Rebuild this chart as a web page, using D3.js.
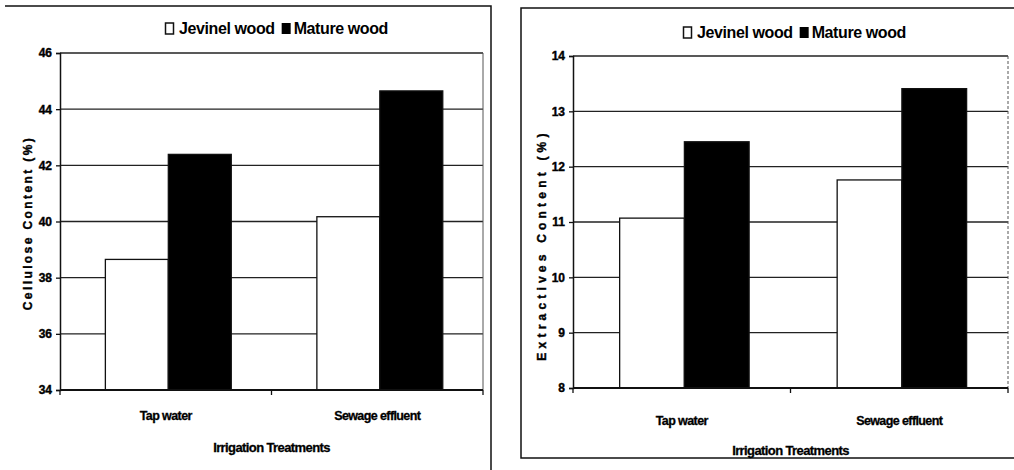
<!DOCTYPE html>
<html>
<head>
<meta charset="utf-8">
<script src="https://cdn.jsdelivr.net/npm/d3@7"></script>
<style>
  body { margin: 0; background: #fff; }
  svg text { font-family: "Liberation Sans Narrow", "Liberation Sans", Arial, sans-serif; font-weight: bold; fill: #000; }
</style>
</head>
<body>
<script>
// data
var categories = ["Tap water", "Sewage effluent"];
var seriesNames = ["Jevinel wood", "Mature wood"];
var celluloseJevinel = [38.65, 40.17];
var celluloseMature = [42.39, 44.65];
var extractJevinel = [11.07, 11.76];
var extractMature = [12.45, 13.41];
var celluloseTicks = [34, 36, 38, 40, 42, 44, 46];
var extractTicks = [8, 9, 10, 11, 12, 13, 14];

var svg = d3.select("body").append("svg")
    .attr("width", 1014)
    .attr("height", 470);

function drawChart(o) {
  var g = svg.append("g");
  var yMin = o.ticks[0], yMax = o.ticks[o.ticks.length - 1];

  var y = d3.scaleLinear().domain([yMin, yMax]).range([o.bottom, o.top]);
  var x0 = d3.scaleBand().domain(categories).range([o.left, o.right]);
  var x1 = d3.scaleBand().domain(seriesNames).range([0, x0.bandwidth()])
      .paddingOuter(0.68).align(0.53);

  // outer frame
  g.append("path")
    .attr("d", o.frame)
    .attr("fill", "none").attr("stroke", "#111").attr("stroke-width", 1.5);

  // gridlines
  g.selectAll(".grid").data(o.ticks.slice(1))
    .enter().append("line")
    .attr("x1", o.left).attr("x2", o.right)
    .attr("y1", function(d){ return y(d); }).attr("y2", function(d){ return y(d); })
    .attr("stroke", "#222").attr("stroke-width", 1.4);

  // right plot border
  g.append("line")
    .attr("x1", o.right).attr("x2", o.right).attr("y1", o.top).attr("y2", o.bottom)
    .attr("stroke", "#555").attr("stroke-width", 1).attr("stroke-dasharray", o.rightDash);

  // bars
  var rows = categories.map(function(c, i){ return [
    {cat: c, s: seriesNames[0], v: o.jev[i]},
    {cat: c, s: seriesNames[1], v: o.mat[i]}
  ]; });
  var grp = g.selectAll(".grp").data(rows).enter().append("g")
    .attr("transform", function(d){ return "translate(" + x0(d[0].cat) + ",0)"; });
  grp.selectAll("rect").data(function(d){ return d; })
    .enter().append("rect")
    .attr("x", function(d){ return x1(d.s); })
    .attr("width", x1.bandwidth())
    .attr("y", function(d){ return y(d.v); })
    .attr("height", function(d){ return y(yMin) - y(d.v); })
    .attr("fill", function(d){ return d.s == seriesNames[0] ? "#fff" : "#000"; })
    .attr("stroke", "#111").attr("stroke-width", 1.3);

  // y axis
  var yAxis = g.append("g").attr("transform", "translate(" + o.left + ",0)")
    .call(d3.axisLeft(y).tickValues(o.ticks).tickSize(4).tickPadding(4).tickFormat(d3.format("d")));
  yAxis.select(".domain").attr("stroke", "#111").attr("stroke-width", 1.5);
  yAxis.selectAll(".tick line").attr("stroke", "#111").attr("stroke-width", 1.3);
  yAxis.selectAll("text").attr("font-size", 12)
    .style("font-family", "'Liberation Sans Narrow', 'Liberation Sans', Arial, sans-serif")
    .style("font-weight", "bold")
    .attr("stroke", "#000").attr("stroke-width", 0.4);

  // x axis
  var xAxis = g.append("g").attr("transform", "translate(0," + o.bottom + ")");
  xAxis.append("line").attr("x1", o.left).attr("x2", o.right)
    .attr("stroke", "#111").attr("stroke-width", 1.8);
  xAxis.selectAll(".xt").data([o.left, x0(categories[1]), o.right])
    .enter().append("line")
    .attr("x1", function(d){ return d; }).attr("x2", function(d){ return d; })
    .attr("y1", 0).attr("y2", 5).attr("stroke", "#111").attr("stroke-width", 1.3);
  xAxis.selectAll("text").data(categories)
    .enter().append("text")
    .attr("x", function(d){ return x0(d) + x0.bandwidth() / 2; })
    .attr("y", o.catY - o.bottom)
    .attr("text-anchor", "middle")
    .attr("font-size", 12.5)
    .attr("letter-spacing", -0.6)
    .attr("stroke", "#000").attr("stroke-width", 0.3)
    .text(function(d){ return d; });

  g.append("text")
    .attr("x", (o.left + o.right) / 2).attr("y", o.xTitleY)
    .attr("text-anchor", "middle").attr("font-size", 13).attr("letter-spacing", -0.6)
    .attr("stroke", "#000").attr("stroke-width", 0.3)
    .text("Irrigation Treatments");

  g.append("text")
    .attr("transform", "translate(" + o.yTitleX + "," + o.yTitleY + ") rotate(-90)")
    .attr("text-anchor", "middle").attr("font-size", 12).attr("letter-spacing", o.yTitleSpacing)
    .attr("stroke", "#000").attr("stroke-width", 0.4)
    .text(o.yTitle);

  // legend
  var lg = g.append("g").attr("transform", "translate(" + o.legX + "," + o.legY + ")");
  lg.append("rect").attr("x", 0.5).attr("y", -11).attr("width", 8).attr("height", 11)
    .attr("fill", "#fff").attr("stroke", "#111").attr("stroke-width", 1.5);
  var t1 = lg.append("text").attr("x", 14).attr("y", 0).attr("font-size", 16).attr("letter-spacing", -0.4)
    .text(seriesNames[0]);
  var w1 = t1.node().getComputedTextLength();
  lg.append("rect").attr("x", 14 + w1 + 7).attr("y", -11).attr("width", 9).attr("height", 11)
    .attr("fill", "#000");
  lg.append("text").attr("x", 14 + w1 + 19).attr("y", 0).attr("font-size", 16).attr("letter-spacing", -0.4)
    .text(seriesNames[1]);
}

drawChart({
  left: 60, right: 483, top: 53, bottom: 390,
  ticks: celluloseTicks, jev: celluloseJevinel, mat: celluloseMature,
  yTitle: "Cellulose Content (%)", yTitleX: 32, yTitleY: 223, yTitleSpacing: 2.4,
  catY: 420, xTitleY: 452,
  legX: 165, legY: 34,
  rightDash: null,
  frame: "M5,6 L491,6 L491,470"
});

drawChart({
  left: 573, right: 1008, top: 56, bottom: 388,
  ticks: extractTicks, jev: extractJevinel, mat: extractMature,
  yTitle: "Extractives Content (%)", yTitleX: 546, yTitleY: 245, yTitleSpacing: 4.2,
  catY: 425, xTitleY: 455,
  legX: 683, legY: 38,
  rightDash: "3,2",
  frame: "M1014,8 L521,8 L521,458 L1014,458"
});
</script>
</body>
</html>
